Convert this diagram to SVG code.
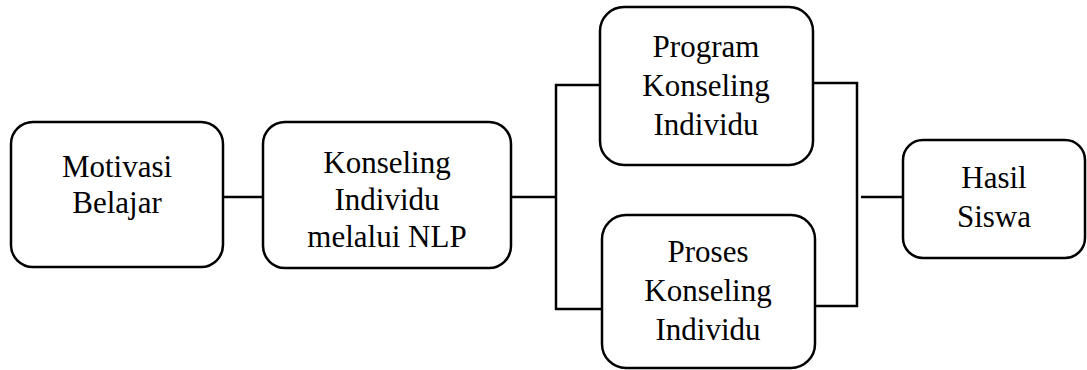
<svg xmlns="http://www.w3.org/2000/svg" width="1087" height="370" viewBox="0 0 1087 370">
<style>
.box{fill:#fff;stroke:#000;stroke-width:2.5}
.ln{fill:none;stroke:#000;stroke-width:2.5}
text{font-family:"Liberation Serif","Times New Roman",serif;font-size:31px;fill:#000;text-anchor:middle}
</style>
<rect width="1087" height="370" fill="#fff"/>
<g id="connectors">
<line class="ln" x1="223" y1="197" x2="264" y2="197"/>
<line class="ln" x1="511" y1="197" x2="556" y2="197"/>
<polyline class="ln" points="600,85 556,85 556,309 602,309"/>
<polyline class="ln" points="813,83 857,83 857,306 815,306"/>
<line class="ln" x1="861" y1="197" x2="903" y2="197"/>
</g>
<g id="motivasi">
<rect class="box" x="11" y="122" width="212" height="145" rx="22"/>
<text x="117" y="177">Motivasi</text>
<text x="117" y="213">Belajar</text>
</g>
<g id="konseling-nlp">
<rect class="box" x="263" y="122" width="248" height="146" rx="22"/>
<text x="387" y="173">Konseling</text>
<text x="387" y="210">Individu</text>
<text x="387" y="247">melalui NLP</text>
</g>
<g id="program">
<rect class="box" x="600" y="7" width="213" height="158" rx="24"/>
<text x="706" y="57">Program</text>
<text x="706" y="96">Konseling</text>
<text x="706" y="135">Individu</text>
</g>
<g id="proses">
<rect class="box" x="602" y="215" width="213" height="153" rx="24"/>
<text x="708" y="262">Proses</text>
<text x="708" y="301">Konseling</text>
<text x="708" y="340">Individu</text>
</g>
<g id="hasil">
<rect class="box" x="903" y="140" width="182" height="118" rx="20"/>
<text x="994" y="188">Hasil</text>
<text x="994" y="227">Siswa</text>
</g>
</svg>
